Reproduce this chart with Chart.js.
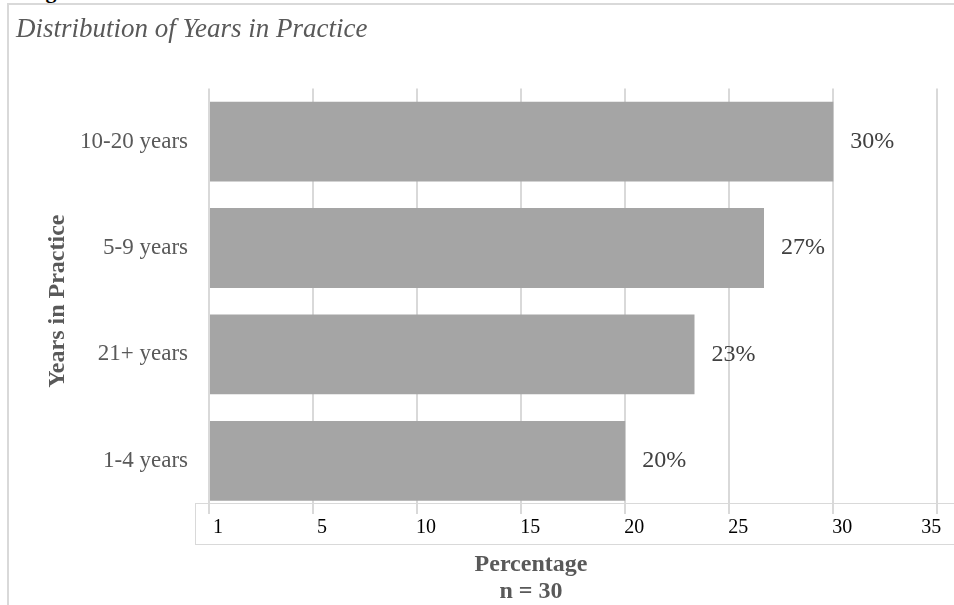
<!DOCTYPE html>
<html>
<head>
<meta charset="utf-8">
<script src="https://cdn.jsdelivr.net/npm/chart.js@4.4.1/dist/chart.umd.min.js"></script>
<style>
  html, body { margin: 0; padding: 0; background: #fff; overflow: hidden; }
  #wrap { position: relative; width: 954px; height: 605px; overflow: hidden; }
  #frame { position: absolute; left: 7px; top: 3px; right: -10px; bottom: -10px; border-left: 2px solid #d9d9d9; border-top: 2px solid #d9d9d9; }
  #fig { position: absolute; left: 26px; top: -20px; font: bold 22px "Liberation Serif"; line-height: 22px; color: #000; white-space: nowrap; }
  canvas { position: absolute; left: 0; top: 0; }
</style>
</head>
<body>
<div id="wrap">
  <div id="frame"></div>
  <div id="fig">Figure</div>
  <canvas id="yearsChart" width="954" height="605"></canvas>
</div>
<script>
const categories = ["10-20 years", "5-9 years", "21+ years", "1-4 years"];
const percentages = [30, 26.67, 23.33, 20];
const xTickLabels = ["1", "5", "10", "15", "20", "25", "30", "35"];
const chartTitle = "Distribution of Years in Practice";
const yTitle = "Years in Practice";
const xTitleLines = ["Percentage", "n = 30"];

const serif = "'Liberation Serif', 'Times New Roman', serif";

const extrasPlugin = {
  id: "extras",
  afterDatasetsDraw(chart) {
    const ctx = chart.ctx;
    const meta = chart.getDatasetMeta(0);
    ctx.save();
    ctx.font = "24px " + serif;
    ctx.fillStyle = "#404040";
    ctx.textAlign = "left";
    ctx.textBaseline = "middle";
    meta.data.forEach((bar, index) => {
      ctx.fillText(Math.round(percentages[index]) + "%", bar.x + 17, bar.y);
    });
    ctx.restore();
  },
  afterDraw(chart) {
    const ctx = chart.ctx;
    const area = chart.chartArea;
    ctx.save();
    // box round the tick labels
    ctx.strokeStyle = "#d9d9d9";
    ctx.lineWidth = 1;
    ctx.strokeRect(area.left - 13.5, area.bottom - 10.5, chart.width, 41);
    // x axis title
    ctx.font = "bold 24px " + serif;
    ctx.fillStyle = "#595959";
    ctx.textAlign = "center";
    ctx.textBaseline = "alphabetic";
    ctx.fillText(xTitleLines[0], area.left + 322, area.bottom + 57);
    ctx.fillText(xTitleLines[1], area.left + 322, area.bottom + 84);
    ctx.restore();
  }
};

const context = document.getElementById("yearsChart").getContext("2d");
new Chart(context, {
  type: "bar",
  data: {
    labels: categories,
    datasets: [{
      data: percentages,
      backgroundColor: "#a5a5a5",
      borderWidth: 0,
      barPercentage: 0.75,
      categoryPercentage: 1
    }]
  },
  options: {
    indexAxis: "y",
    responsive: false,
    animation: false,
    layout: { padding: { left: 16, top: 0, right: 0, bottom: 0 } },
    plugins: {
      legend: { display: false },
      tooltip: { enabled: false },
      title: {
        display: true,
        text: chartTitle,
        align: "start",
        color: "#595959",
        font: { family: serif, size: 27, style: "italic", weight: "normal" },
        padding: { top: 14, bottom: 42 }
      }
    },
    scales: {
      x: {
        type: "linear",
        min: 0,
        max: 35.8,
        grid: { color: "#d9d9d9", lineWidth: 2, drawTicks: false },
        border: { display: false },
        ticks: {
          stepSize: 5,
          includeBounds: false,
          labelOffset: 9,
          padding: 2,
          color: "#000",
          font: { family: serif, size: 20 },
          callback: (value, index, ticks) => {
            const label = xTickLabels[index];
            return index === ticks.length - 1 ? label + "\u00a0".repeat(6) : label;
          }
        },
        afterFit: (scale) => {
          scale.height = 91;
          scale.paddingLeft = 0;
          scale.paddingRight = 0;
        }
      },
      y: {
        grid: { display: false },
        border: { display: false },
        ticks: {
          color: "#595959",
          padding: 13,
          font: { family: serif, size: 23 }
        },
        title: {
          display: true,
          text: yTitle,
          color: "#595959",
          font: { family: serif, size: 24, weight: "bold" },
          padding: { top: 27, bottom: 0 }
        },
        afterFit: (scale) => {
          scale.width = 193;
          scale.paddingTop = 0;
          scale.paddingBottom = 0;
        }
      }
    }
  },
  plugins: [extrasPlugin]
});
</script>
</body>
</html>
